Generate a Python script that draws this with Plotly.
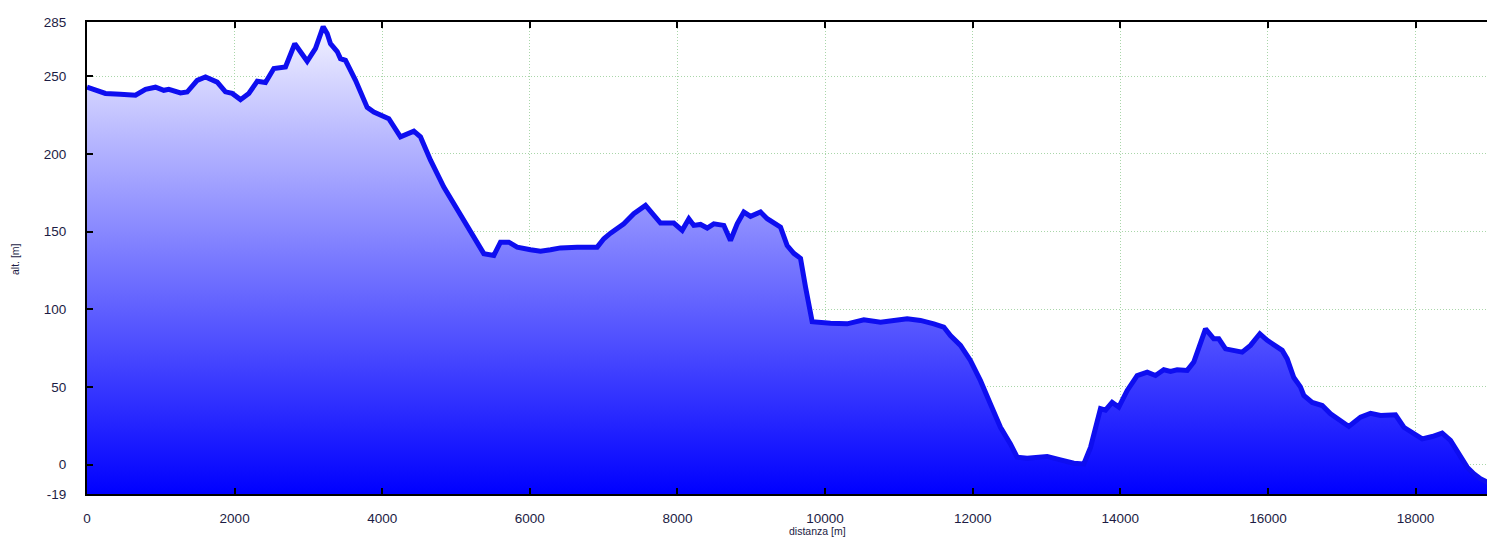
import plotly.graph_objects as go

distance_m = [0, 120, 250, 450, 566, 657, 793, 928, 1041, 1108, 1267, 1357, 1493, 1605, 1764,
              1876, 1967, 2080, 2192, 2306, 2418, 2531, 2689, 2815, 2983, 3096, 3200, 3254,
              3299, 3390, 3434, 3502, 3638, 3796, 3886, 4089, 4247, 4428, 4518, 4654, 4834,
              4970, 5105, 5241, 5376, 5512, 5602, 5715, 5828, 6009, 6144, 6280, 6415, 6641,
              6912, 7002, 7093, 7273, 7408, 7567, 7770, 7950, 8064, 8154, 8221, 8312, 8403,
              8492, 8628, 8718, 8809, 8899, 8990, 9125, 9216, 9396, 9486, 9576, 9667, 9735,
              9825, 10073, 10299, 10525, 10751, 11112, 11292, 11473, 11608, 11698, 11834,
              11969, 12105, 12240, 12376, 12511, 12602, 12738, 12873, 13009, 13190, 13370,
              13505, 13596, 13731, 13799, 13889, 13979, 14093, 14228, 14364, 14476, 14589,
              14680, 14770, 14906, 14995, 15063, 15154, 15266, 15334, 15425, 15537, 15651,
              15763, 15890, 15990, 16080, 16193, 16261, 16350, 16440, 16486, 16599, 16735,
              16848, 16983, 17096, 17254, 17390, 17525, 17728, 17841, 17976, 18090, 18226,
              18360, 18473, 18609, 18699, 18789, 18879, 18970, 19050]
altitude_m = [243, 241, 239, 238.5, 238.4, 237.8, 241.6, 243, 241, 241.6, 239.3, 239.9, 247.4,
              249.6, 246.3, 240, 239, 235, 239, 246.8, 246, 255, 256, 271, 259.7, 268, 282,
              277.6, 271, 266, 261.4, 260.3, 247.4, 230, 227, 222.7, 211, 214.7, 211, 196,
              178.7, 168, 157, 146.5, 135.8, 134.7, 143.2, 143.2, 140, 138.3, 137.4, 138.3,
              139.5, 140, 140, 145.4, 149, 155, 161.5, 166.9, 155.5, 155.5, 150.8, 158.3, 154,
              154.6, 152.3, 155, 154, 144.3, 155, 162.6, 159.8, 162.6, 158.3, 152.9, 141, 136,
              132.8, 114.2, 92, 91, 90.6, 93.2, 91.7, 93.9, 92.8, 90.6, 88.5, 83, 76.7, 67,
              54, 39, 24, 13.3, 4.7, 4, 4.7, 5.2, 3, 0.8, 0.4, 11, 36, 35, 40, 37, 47.7, 57.3,
              59.5, 57.3, 61, 60, 61, 60.6, 66, 75.6, 87.4, 81, 81, 74.5, 73.5, 72.4, 76.7,
              84.2, 80, 76.7, 73.5, 68, 56, 50, 44.5, 40, 38, 32.7, 28.4, 24.5, 30.5, 33, 31.6,
              32, 24, 19.8, 16.5, 18, 20.2, 15.5, 5.8, -1.7, -6, -9.2, -11.4, -15]

x_ticks = [0, 2000, 4000, 6000, 8000, 10000, 12000, 14000, 16000, 18000]
y_ticks = [-19, 0, 50, 100, 150, 200, 250, 285]
y_min, y_max = -19, 285
x_max = 19076

txt = "#1c1c44"
grid = "#a9d6a9"

fig = go.Figure()
fig.add_trace(go.Scatter(x=[distance_m[0], distance_m[-1]], y=[y_min, y_min], mode="lines",
                         line=dict(width=0, color="rgba(0,0,0,0)"), hoverinfo="skip",
                         showlegend=False))
fig.add_trace(go.Scatter(
    x=distance_m, y=altitude_m, mode="lines", fill="tonexty",
    fillgradient=dict(type="vertical", start=y_min, stop=y_max,
                      colorscale=[[0, "#0000ff"], [1, "#f4f4ff"]]),
    line=dict(color="#0e0ef0", width=5), showlegend=False))

axis_common = dict(showline=True, linecolor="black", linewidth=2, mirror="ticks",
                   ticks="inside", ticklen=6, tickwidth=2, tickcolor="black",
                   showgrid=True, gridcolor=grid, griddash="1px,2px", gridwidth=1,
                   zeroline=False, automargin=False,
                   tickfont=dict(family="Liberation Sans, Arial, sans-serif", size=13.5, color=txt))

fig.update_xaxes(range=[0, x_max], tickvals=x_ticks, ticktext=[str(v) for v in x_ticks],
                 ticklabelstandoff=11, **axis_common)
fig.update_yaxes(range=[y_min, y_max], tickvals=y_ticks, ticktext=[str(v) for v in y_ticks],
                 ticklabelstandoff=16, **axis_common)

fig.add_annotation(text="distanza [m]", xref="paper", yref="paper", x=(817 - 87) / (1495 - 87),
                   y=-(531 - 494) / 472, showarrow=False, xanchor="center", yanchor="middle",
                   font=dict(family="Liberation Sans, Arial, sans-serif", size=10.5, color=txt))
fig.add_annotation(text="alt. [m]", xref="paper", yref="paper", x=-(87 - 15) / (1495 - 87),
                   y=(494 - 259) / 472, showarrow=False, textangle=-90, xanchor="center",
                   yanchor="middle",
                   font=dict(family="Liberation Sans, Arial, sans-serif", size=10.5, color=txt))

# page body has an 8px default margin, so the figure is sized/offset to compensate
fig.update_layout(width=1487, height=532, margin=dict(l=79, r=0, t=14, b=46, autoexpand=False),
                  plot_bgcolor="white", paper_bgcolor="white")

fig.write_html("out.html")
